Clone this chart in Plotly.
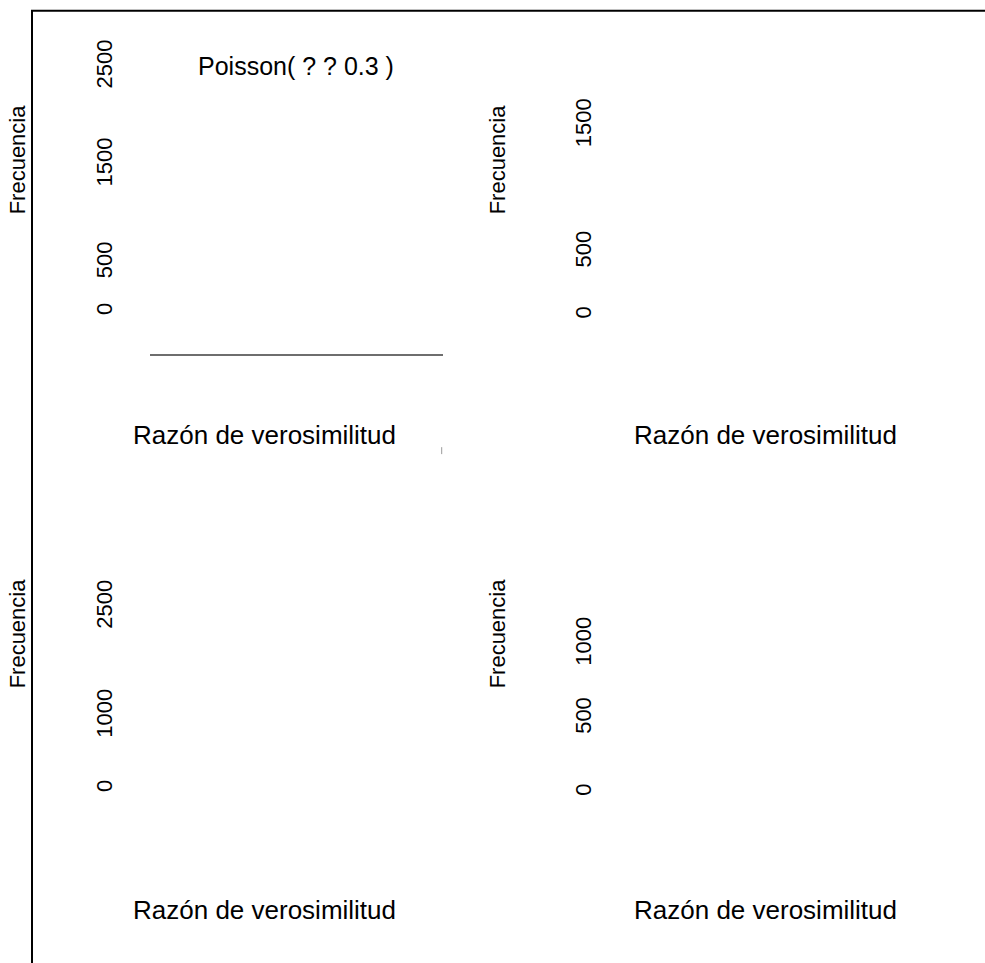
import plotly.graph_objects as go

# ---- data (tick values per panel) ----
panel1_ticks = [0, 500, 1500, 2500]
panel2_ticks = [0, 500, 1500]
panel3_ticks = [0, 1000, 2500]
panel4_ticks = [0, 500, 1000]
y_title = "Frecuencia"
x_title = "Razón de verosimilitud"
main_title = "Poisson( ? ? 0.3 )"

W, H = 985, 963
FONT = "Liberation Sans, Arial, sans-serif"

def px(x):
    return x / W

def py(y):
    return 1 - y / H

fig = go.Figure()
for i in range(1, 5):
    sfx = "" if i == 1 else str(i)
    fig.add_trace(go.Scatter(x=[], y=[], xaxis="x" + sfx, yaxis="y" + sfx,
                             showlegend=False, hoverinfo="skip"))

common_y = dict(tickangle=-90, showline=False, showgrid=False, zeroline=False,
                ticks="", anchor="free", tickfont=dict(family=FONT, size=22, color="black"))
hidden_x = dict(visible=False, range=[0, 1])

fig.update_layout(
    width=W, height=H, margin=dict(l=0, r=0, t=0, b=0),
    paper_bgcolor="white", plot_bgcolor="white",
    font=dict(family=FONT, size=22, color="black"),
    showlegend=False,
    # panel 1
    xaxis=dict(domain=[px(150), px(443)], range=[0, 1], anchor="y", showline=True,
               linecolor="#6e6e6e", linewidth=1.5, showticklabels=False, ticks="",
               showgrid=False, zeroline=False),
    yaxis=dict(domain=[py(351.7), py(40)], range=[-429, 2739], position=px(116),
               tickvals=panel1_ticks, **common_y),
    # panel 2
    xaxis2=dict(domain=[px(651), px(944)], anchor="y2", **hidden_x),
    yaxis2=dict(domain=[py(351.7), py(40)], range=[-305, 2150], position=px(595),
                tickvals=panel2_ticks, **common_y),
    # panel 3
    xaxis3=dict(domain=[px(150), px(443)], anchor="y3", **hidden_x),
    yaxis3=dict(domain=[py(830), py(520)], range=[-568, 3678], position=px(116),
                tickvals=panel3_ticks, **common_y),
    # panel 4
    xaxis4=dict(domain=[px(651), px(944)], anchor="y4", **hidden_x),
    yaxis4=dict(domain=[py(830), py(520)], range=[-253, 1827], position=px(595),
                tickvals=panel4_ticks, **common_y),
)

ann = []
for (xc, yc) in [(17, 156), (497, 156), (17, 632), (497, 632)]:
    ann.append(dict(text=y_title, x=px(xc), y=py(yc), xref="paper", yref="paper",
                    textangle=-90, showarrow=False, xanchor="center", yanchor="middle",
                    font=dict(family=FONT, size=22, color="black")))
for (xc, yc) in [(264, 433), (765, 433), (264, 910), (765, 910)]:
    ann.append(dict(text=x_title, x=px(xc), y=py(yc), xref="paper", yref="paper",
                    showarrow=False, xanchor="center", yanchor="middle",
                    font=dict(family=FONT, size=26, color="black")))
ann.append(dict(text=main_title, x=px(296), y=py(62), xref="paper", yref="paper",
                showarrow=False, xanchor="center", yanchor="middle",
                font=dict(family=FONT, size=25, color="black")))
fig.update_layout(annotations=ann)

fig.update_layout(shapes=[
    dict(type="line", xref="paper", yref="paper", x0=px(31), x1=1, y0=py(6.8), y1=py(6.8),
         line=dict(color="black", width=2)),
    dict(type="line", xref="paper", yref="paper", x0=px(32), x1=px(32), y0=py(6), y1=0,
         line=dict(color="black", width=2)),
    dict(type="line", xref="paper", yref="paper", x0=px(441.7), x1=px(441.7), y0=py(445), y1=py(452),
         line=dict(color="#9a9a9a", width=1)),
])

post = ("document.body.style.margin='0';document.body.style.overflow='hidden';"
        "var d=document.querySelector('.plotly-graph-div');"
        "d.style.position='absolute';d.style.top='0px';d.style.left='0px';")
fig.write_html("out.html", config={"displayModeBar": False}, post_script=post)
